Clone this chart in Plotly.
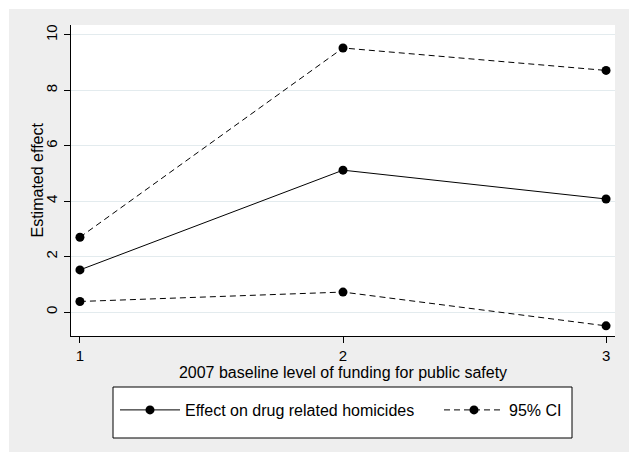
import plotly.graph_objects as go

# Funding level categories and estimated effects with 95% confidence bounds
funding_level = [1, 2, 3]
effect = [1.52, 5.12, 4.08]
ci_upper = [2.70, 9.53, 8.72]
ci_lower = [0.38, 0.72, -0.50]

y_ticks = [0, 2, 4, 6, 8, 10]
x_ticks = [1, 2, 3]

FONT = "Liberation Sans, Arial, sans-serif"
BLACK = "#000000"
DASH = "6px,4px"

fig = go.Figure()

fig.add_trace(go.Scatter(
    x=funding_level, y=effect, mode="lines+markers",
    name="Effect on drug related homicides",
    line=dict(color=BLACK, width=1),
    marker=dict(color=BLACK, size=9),
    legend="legend",
))
fig.add_trace(go.Scatter(
    x=funding_level, y=ci_upper, mode="lines+markers",
    name="95% CI", legendgroup="ci",
    line=dict(color=BLACK, width=1, dash=DASH),
    marker=dict(color=BLACK, size=9),
    legend="legend2",
))
fig.add_trace(go.Scatter(
    x=funding_level, y=ci_lower, mode="lines+markers",
    name="95% CI", legendgroup="ci", showlegend=False,
    line=dict(color=BLACK, width=1, dash=DASH),
    marker=dict(color=BLACK, size=9),
    legend="legend2",
))

W, H = 629, 452
L, R, T, B = 71, 14, 25, 116
pw, ph = W - L - R, H - T - B


def px_x(p):
    return (p - L) / pw


def px_y(p):
    return (H - B - p) / ph


legend_common = dict(
    orientation="h", bgcolor="rgba(0,0,0,0)", borderwidth=0,
    font=dict(family=FONT, size=16, color=BLACK),
    itemwidth=60, yanchor="middle", xanchor="left",
)

fig.update_layout(
    width=W, height=H,
    margin=dict(l=L, r=R, t=T, b=B, pad=0),
    paper_bgcolor="#EEEEEE",
    plot_bgcolor="#FFFFFF",
    font=dict(family=FONT, size=15, color=BLACK),
    xaxis=dict(
        range=[0.966, 3.034], tickvals=x_ticks, ticktext=[str(v) for v in x_ticks],
        showgrid=False, zeroline=False,
        showline=True, linecolor=BLACK, linewidth=1,
        ticks="outside", ticklen=6, tickcolor=BLACK,
        title=dict(text="2007 baseline level of funding for public safety",
                   font=dict(size=16), standoff=0),
        tickfont=dict(size=15),
    ),
    yaxis=dict(
        range=[-0.866, 10.36], tickvals=y_ticks, ticktext=[str(v) for v in y_ticks],
        showgrid=True, gridcolor="#E3EBEE", gridwidth=1, zeroline=False,
        showline=True, linecolor=BLACK, linewidth=1,
        ticks="outside", ticklen=6, tickcolor=BLACK,
        tickangle=-90, ticklabelstandoff=1,
        tickfont=dict(size=15),
    ),
    annotations=[
        dict(text="Estimated effect", xref="paper", yref="paper",
             x=px_x(37), y=0.5, xanchor="center", yanchor="middle",
             textangle=-90, showarrow=False,
             font=dict(family=FONT, size=16, color=BLACK)),
    ],
    legend=dict(x=px_x(115), y=px_y(410), **legend_common),
    legend2=dict(x=px_x(439), y=px_y(410), **legend_common),
    shapes=[
        # white page border on the top and left edges
        dict(type="rect", xref="paper", yref="paper", x0=-0.3, x1=px_x(9),
             y0=-0.5, y1=1.3, fillcolor="#FFFFFF", line=dict(width=0), layer="above"),
        dict(type="rect", xref="paper", yref="paper", x0=-0.3, x1=1.3,
             y0=px_y(9), y1=1.3, fillcolor="#FFFFFF", line=dict(width=0), layer="above"),
        # legend frame
        dict(type="rect", xref="paper", yref="paper", x0=px_x(113), x1=px_x(572),
             y0=px_y(438), y1=px_y(387), fillcolor="#FFFFFF",
             line=dict(color=BLACK, width=1), layer="above"),
    ],
    showlegend=True,
)

fig.write_html("out.html")
